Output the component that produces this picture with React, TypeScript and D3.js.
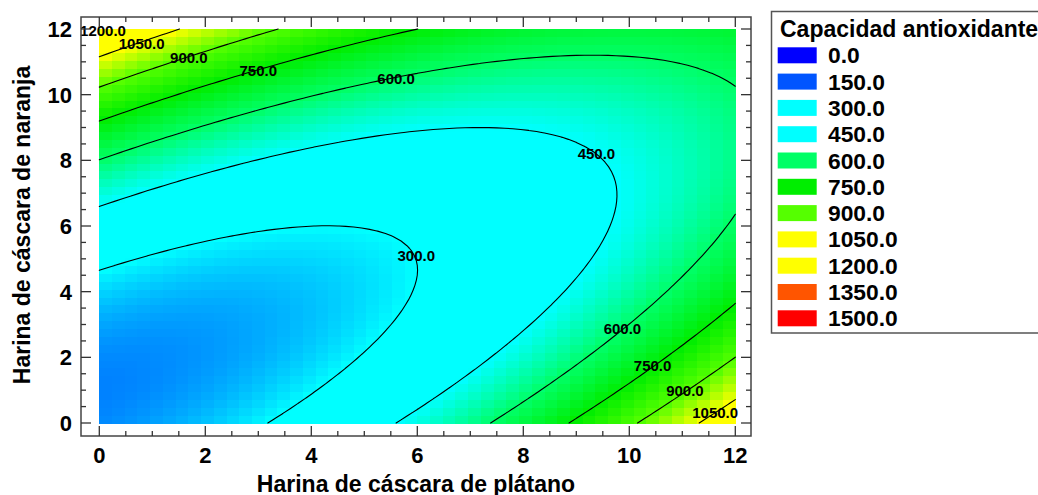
import React from "react";
import * as d3 from "d3";

// Legend levels and colours (Capacidad antioxidante)
const levels = [0, 150, 300, 450, 600, 750, 900, 1050, 1200, 1350, 1500];
const levelColors = ["#0000ff", "#0055ff", "#00ffff", "#00ffff", "#00ff66", "#00ee00", "#55ff00", "#ffff00", "#ffff00", "#ff5500", "#ff0000"];
const contourLevels = [300, 450, 600, 750, 900, 1050, 1200];
const xTicks = [0, 2, 4, 6, 8, 10, 12];
const yTicks = [0, 2, 4, 6, 8, 10, 12];

// Quadratic response-surface coefficients estimated from the contour positions
const coefTerms = ["const", "x", "y", "x2", "y2", "xy"];
const coefValues = [197, 15.6, -16.7, 5.28, 8.35, -10.17];

// Contour labels
const labelText = ["1200.0", "1050.0", "900.0", "750.0", "600.0", "450.0", "300.0", "600.0", "750.0", "900.0", "1050.0"];
const labelX = [0.07, 0.8, 1.69, 3.0, 5.6, 9.38, 5.98, 9.87, 10.44, 11.05, 11.62];
const labelY = [11.94, 11.57, 11.13, 10.73, 10.5, 8.19, 5.11, 2.88, 1.74, 0.98, 0.33];

const W = 1038, H = 495;
const FONT = "'Liberation Sans', Arial, sans-serif";

function model(x: number, y: number) {
  const [b0, b1, b2, b11, b22, b12] = coefValues;
  return b0 + b1 * x + b2 * y + b11 * x * x + b22 * y * y + b12 * x * y;
}

function isoSegments(f: (x: number, y: number) => number, n: number, level: number) {
  const segs: [number, number, number, number][] = [];
  const step = 12 / n;
  const v: number[][] = [];
  for (let j = 0; j <= n; j++) {
    const row: number[] = [];
    for (let i = 0; i <= n; i++) row.push(f(i * step, j * step));
    v.push(row);
  }
  for (let j = 0; j < n; j++) {
    for (let i = 0; i < n; i++) {
      const c = [
        [i, j, v[j][i]],
        [i + 1, j, v[j][i + 1]],
        [i + 1, j + 1, v[j + 1][i + 1]],
        [i, j + 1, v[j + 1][i]],
      ];
      const pts: [number, number][] = [];
      for (let k = 0; k < 4; k++) {
        const a = c[k], b = c[(k + 1) % 4];
        if ((a[2] - level) * (b[2] - level) < 0) {
          const t = (level - a[2]) / (b[2] - a[2]);
          pts.push([(a[0] + t * (b[0] - a[0])) * step, (a[1] + t * (b[1] - a[1])) * step]);
        }
      }
      if (pts.length >= 2) segs.push([pts[0][0], pts[0][1], pts[1][0], pts[1][1]]);
      if (pts.length === 4) segs.push([pts[2][0], pts[2][1], pts[3][0], pts[3][1]]);
    }
  }
  return segs;
}

export default function App() {
  const x = d3.scaleLinear().domain([0, 12]).range([99.3, 735.3]);
  const y = d3.scaleLinear().domain([0, 12]).range([423, 29]);
  const color = d3.scaleLinear<string>().domain(levels).range(levelColors).clamp(true);

  const frame = { l: 81, r: 751, t: 17, b: 436 };
  const nCells = 50;
  const cw = 12 / nCells;
  const cells: JSX.Element[] = [];
  for (let j = 0; j < nCells; j++) {
    for (let i = 0; i < nCells; i++) {
      const cx = (i + 0.5) * cw, cy = (j + 0.5) * cw;
      const x0 = x(i * cw), x1 = x((i + 1) * cw);
      const y0 = y((j + 1) * cw), y1 = y(j * cw);
      cells.push(
        <rect key={`c${i}-${j}`} x={x0} y={y0} width={x1 - x0 + 0.6} height={y1 - y0 + 0.6}
          fill={color(model(cx, cy))} />
      );
    }
  }

  const contourPaths = contourLevels.map((lv) => {
    const segs = isoSegments(model, 80, lv);
    const d = segs.map((s) => `M${x(s[0]).toFixed(2)},${y(s[1]).toFixed(2)}L${x(s[2]).toFixed(2)},${y(s[3]).toFixed(2)}`).join("");
    return <path key={`l${lv}`} d={d} fill="none" stroke="#000" strokeWidth={1.1} strokeLinecap="round" />;
  });

  const minor = d3.range(0, 12.0001, 0.5);
  const tickEls: JSX.Element[] = [];
  minor.forEach((t, k) => {
    const major = Math.abs(t % 2) < 1e-6;
    const len = major ? 10 : 5;
    const px = x(t), py = y(t);
    tickEls.push(<line key={`b${k}`} x1={px} x2={px} y1={frame.b} y2={frame.b - len} stroke="#333" strokeWidth={1.3} />);
    tickEls.push(<line key={`t${k}`} x1={px} x2={px} y1={frame.t} y2={frame.t + len} stroke="#333" strokeWidth={1.3} />);
    tickEls.push(<line key={`l${k}`} x1={frame.l} x2={frame.l + len} y1={py} y2={py} stroke="#333" strokeWidth={1.3} />);
    tickEls.push(<line key={`r${k}`} x1={frame.r} x2={frame.r - len} y1={py} y2={py} stroke="#333" strokeWidth={1.3} />);
  });

  return (
    <svg width={W} height={H} style={{ position: "absolute", left: 0, top: 0, background: "#fff" }}
      fontFamily={FONT}>
      <rect x={0} y={0} width={W} height={H} fill="#fff" />
      <g shapeRendering="crispEdges">{cells}</g>
      <g>{contourPaths}</g>
      {labelText.map((t, k) => (
        <text key={`lab${k}`} x={x(labelX[k])} y={y(labelY[k])} dy="0.36em" textAnchor="middle"
          fontSize={15} fontWeight="bold" fill="#000">{t}</text>
      ))}
      <rect x={frame.l} y={frame.t} width={frame.r - frame.l} height={frame.b - frame.t}
        fill="none" stroke="#444" strokeWidth={1.5} />
      {tickEls}
      {xTicks.map((t) => (
        <text key={`xt${t}`} x={x(t)} y={463} textAnchor="middle" fontSize={22} fontWeight="bold">{t}</text>
      ))}
      {yTicks.map((t) => (
        <text key={`yt${t}`} x={72} y={y(t)} dy="0.36em" textAnchor="end" fontSize={22} fontWeight="bold">{t}</text>
      ))}
      <text x={416} y={492} textAnchor="middle" fontSize={23} fontWeight="bold">Harina de cáscara de plátano</text>
      <text transform={`translate(30,225) rotate(-90)`} textAnchor="middle" fontSize={23} fontWeight="bold">Harina de cáscara de naranja</text>
      <g>
        <rect x={771.5} y={11.5} width={300} height={321.5} fill="#fff" stroke="#555" strokeWidth={1.5} />
        <text x={780} y={36.5} fontSize={23} fontWeight="bold">Capacidad antioxidante</text>
        {levels.map((lv, k) => {
          const cy = 55.3 + 26.3 * k;
          return (
            <g key={`lg${lv}`}>
              <rect x={777.7} y={cy - 8} width={39} height={16} fill={levelColors[k]} />
              <text x={828} y={cy + 8} fontSize={22.8} fontWeight="bold">{lv.toFixed(1)}</text>
            </g>
          );
        })}
      </g>
    </svg>
  );
}
